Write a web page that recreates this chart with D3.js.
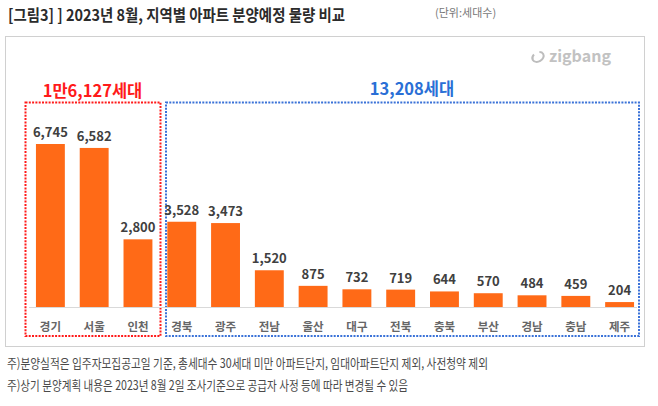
<!DOCTYPE html>
<html>
<head>
<meta charset="utf-8">
<script src="https://cdn.jsdelivr.net/npm/d3@7"></script>
<style>
  body { margin: 0; background: #fff; }
  svg text { font-family: "Noto Sans CJK KR", "Noto Sans", sans-serif; }
</style>
</head>
<body>
<div id="chart"></div>
<script>
const regions = ["경기", "서울", "인천", "경북", "광주", "전남", "울산", "대구", "전북", "충북", "부산", "경남", "충남", "제주"];
const units = [6745, 6582, 2800, 3528, 3473, 1520, 875, 732, 719, 644, 570, 484, 459, 204];
const groupLabels = ["1만6,127세대", "13,208세대"];
const notes = [
  "주)분양실적은 입주자모집공고일 기준, 총세대수 30세대 미만 아파트단지, 임대아파트단지 제외, 사전청약 제외",
  "주)상기 분양계획 내용은 2023년 8월 2일 조사기준으로 공급자 사정 등에 따라 변경될 수 있음"
];

const width = 658, height = 406;
const svg = d3.select("#chart").append("svg")
  .attr("width", width).attr("height", height);

// title + unit
svg.append("text").attr("x", 8).attr("y", 21)
  .attr("font-size", 16).attr("font-weight", "bold").attr("fill", "#2b2b2b")
  .attr("textLength", 337).attr("lengthAdjust", "spacingAndGlyphs")
  .text("[그림3] ] 2023년 8월, 지역별 아파트 분양예정 물량 비교");
svg.append("text").attr("x", 435).attr("y", 17)
  .attr("font-size", 11).attr("fill", "#777")
  .text("(단위:세대수)");

// panel
svg.append("rect").attr("x", 5.5).attr("y", 36.5).attr("width", 639).attr("height", 310)
  .attr("fill", "none").attr("stroke", "#d0d0d0");

// logo
const logo = svg.append("g").attr("transform", "translate(532,57)");
logo.append("ellipse").attr("cx", 6).attr("cy", 0).attr("rx", 6).attr("ry", 4.5)
  .attr("transform", "rotate(-30,6,0)")
  .attr("fill", "none").attr("stroke", "#bdbdbd").attr("stroke-width", 2)
  .attr("stroke-dasharray", "22,6");
logo.append("text").attr("x", 17).attr("y", 5)
  .attr("font-size", 16).attr("font-weight", "bold").attr("fill", "#c2c2c2")
  .attr("font-family", "Roboto, sans-serif")
  .text("zigbang");

const x = d3.scaleBand().domain(regions).range([28.5, 641.5])
  .paddingInner(0.34).paddingOuter(0.17);
const y = d3.scaleLinear().domain([0, 6745]).range([307, 144]);

// group boxes
const boxes = [
  { x0: 25.5, x1: 160.5, color: "#ff1a1a", label: groupLabels[0], lx: 92.5, ly: 97 },
  { x0: 166, x1: 639, color: "#3a72d8", label: groupLabels[1], lx: 412, ly: 95 }
];
boxes.forEach((b) => {
  svg.append("rect").attr("x", b.x0).attr("y", 102.5)
    .attr("width", b.x1 - b.x0).attr("height", 233.5)
    .attr("fill", "none").attr("stroke", b.color).attr("stroke-width", 2)
    .attr("stroke-dasharray", "2,1.3");
  svg.append("text").attr("x", b.lx).attr("y", b.ly)
    .attr("text-anchor", "middle").attr("font-size", 16.5).attr("font-weight", "bold")
    .attr("fill", b.color === "#ff1a1a" ? "#ff1a1a" : "#2a6fd6").text(b.label);
});

// baseline
svg.append("line").attr("x1", 29).attr("x2", 637).attr("y1", 307.5).attr("y2", 307.5)
  .attr("stroke", "#d9d9d9");

// bars
svg.selectAll(".bar").data(regions).join("rect")
  .attr("class", "bar")
  .attr("x", (d) => x(d))
  .attr("width", x.bandwidth())
  .attr("y", (d, i) => y(units[i]))
  .attr("height", (d, i) => y(0) - y(units[i]))
  .attr("fill", "#ff6a17");

svg.selectAll(".val").data(regions).join("text")
  .attr("class", "val")
  .attr("x", (d) => x(d) + x.bandwidth() / 2)
  .attr("y", (d, i) => y(units[i]) - 7)
  .attr("text-anchor", "middle").attr("font-size", 13).attr("font-weight", "bold")
  .attr("fill", "#404040")
  .text((d, i) => d3.format(",")(units[i]));

svg.selectAll(".cat").data(regions).join("text")
  .attr("class", "cat")
  .attr("x", (d) => x(d) + x.bandwidth() / 2)
  .attr("y", 331)
  .attr("text-anchor", "middle").attr("font-size", 11.5).attr("font-weight", "bold")
  .attr("fill", "#666")
  .text((d) => d);

// footnotes
svg.selectAll(".note").data(notes).join("text")
  .attr("class", "note")
  .attr("x", 7).attr("y", (d, i) => 368 + i * 22)
  .attr("font-size", 13).attr("fill", "#4a4a4a")
  .attr("textLength", (d, i) => (i === 0 ? 481 : 401))
  .attr("lengthAdjust", "spacingAndGlyphs")
  .text((d) => d);
</script>
</body>
</html>
